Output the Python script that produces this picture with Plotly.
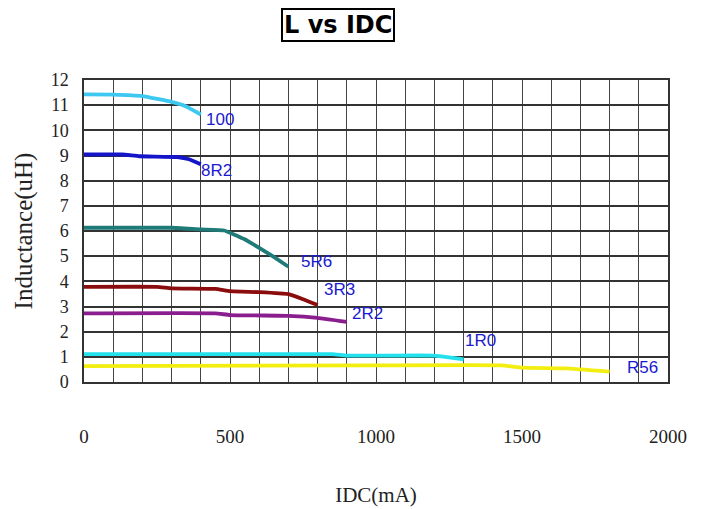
import plotly.graph_objects as go

# ---- data ----
series_names = ["100", "8R2", "5R6", "3R3", "2R2", "1R0", "R56"]

idc_100 = [0, 100, 200, 300, 350, 400]
l_100 = [11.43, 11.42, 11.36, 11.13, 10.95, 10.63]

idc_8r2 = [0, 130, 190, 320, 360, 400]
l_8r2 = [9.04, 9.04, 8.97, 8.94, 8.85, 8.65]

idc_5r6 = [0, 300, 400, 480, 550, 600, 650, 700]
l_5r6 = [6.13, 6.13, 6.06, 6.02, 5.67, 5.33, 4.97, 4.58]

idc_3r3 = [0, 250, 300, 450, 500, 600, 700, 750, 800]
l_3r3 = [3.78, 3.78, 3.72, 3.70, 3.61, 3.57, 3.49, 3.29, 3.06]

idc_2r2 = [0, 450, 500, 700, 800, 900]
l_2r2 = [2.73, 2.73, 2.66, 2.63, 2.55, 2.39]

idc_1r0 = [0, 850, 900, 1200, 1250, 1300]
l_1r0 = [1.11, 1.11, 1.05, 1.05, 0.98, 0.90]

idc_r56 = [0, 1000, 1430, 1500, 1650, 1800]
l_r56 = [0.63, 0.66, 0.66, 0.57, 0.54, 0.41]

x_ticks = [0, 500, 1000, 1500, 2000]
y_ticks = list(range(0, 13))

# ---- styling ----
colors = ["#3cc8f0", "#1414c8", "#1e7b78", "#8b0c0c", "#8a1e8e", "#22e0ec", "#f2ee10"]
label_shifts = [(3, -5), (-2, -6), (11, 5), (4, 15), (3, 8), (-1, 19), (15, 4)]

xs = [idc_100, idc_8r2, idc_5r6, idc_3r3, idc_2r2, idc_1r0, idc_r56]
ys = [l_100, l_8r2, l_5r6, l_3r3, l_2r2, l_1r0, l_r56]

fig = go.Figure()
annotations = []
for name, x, y, c, (dx, dy) in zip(series_names, xs, ys, colors, label_shifts):
    fig.add_trace(go.Scatter(x=x, y=y, mode="lines", name=name,
                             line=dict(color=c, width=3.8, shape="spline", smoothing=0.3),
                             showlegend=False))
    annotations.append(dict(x=x[-1], y=y[-1], xref="x", yref="y", text=name,
                            showarrow=False, xanchor="left", yanchor="middle",
                            xshift=dx, yshift=dy,
                            font=dict(family="Liberation Sans, Arial, sans-serif",
                                      size=17, color="#1a1ad0")))

annotations.append(dict(x=0.435, y=1.182, xref="paper", yref="paper", text="<b>L vs IDC</b>",
                        showarrow=False, xanchor="center", yanchor="middle",
                        bordercolor="#000000", borderwidth=2, borderpad=1,
                        font=dict(family="DejaVu Sans, Verdana, sans-serif", size=24, color="#000000")))

serif = "Liberation Serif, Times New Roman, serif"
fig.update_layout(
    width=705, height=509,
    margin=dict(l=76, r=45, t=72, b=135),
    paper_bgcolor="white", plot_bgcolor="white",
    annotations=annotations,
    xaxis=dict(range=[0, 2000], tickmode="array", tickvals=x_ticks,
               ticktext=[str(v) for v in x_ticks],
               showgrid=True, gridcolor="#444444", gridwidth=1.3, zeroline=False,
               showline=True, linecolor="#333333", linewidth=1.5, mirror=True,
               ticks="", ticklabelstandoff=36,
               tickfont=dict(family=serif, size=19, color="#222222"),
               minor=dict(dtick=100, tick0=0, showgrid=True, gridcolor="#444444", gridwidth=1.3),
               title=dict(text="IDC(mA)", font=dict(family=serif, size=21, color="#222222"), standoff=42)),
    yaxis=dict(range=[0, 12], tickmode="array", tickvals=y_ticks,
               ticktext=[str(v) for v in y_ticks],
               showgrid=True, gridcolor="#333333", gridwidth=1.5, zeroline=False,
               showline=True, linecolor="#333333", linewidth=1.5, mirror=True,
               ticks="", ticklabelstandoff=10,
               tickfont=dict(family=serif, size=18, color="#222222"),
               title=dict(text="Inductance(uH)", font=dict(family=serif, size=25, color="#222222"), standoff=11)),
)

fig.write_html("out.html")
